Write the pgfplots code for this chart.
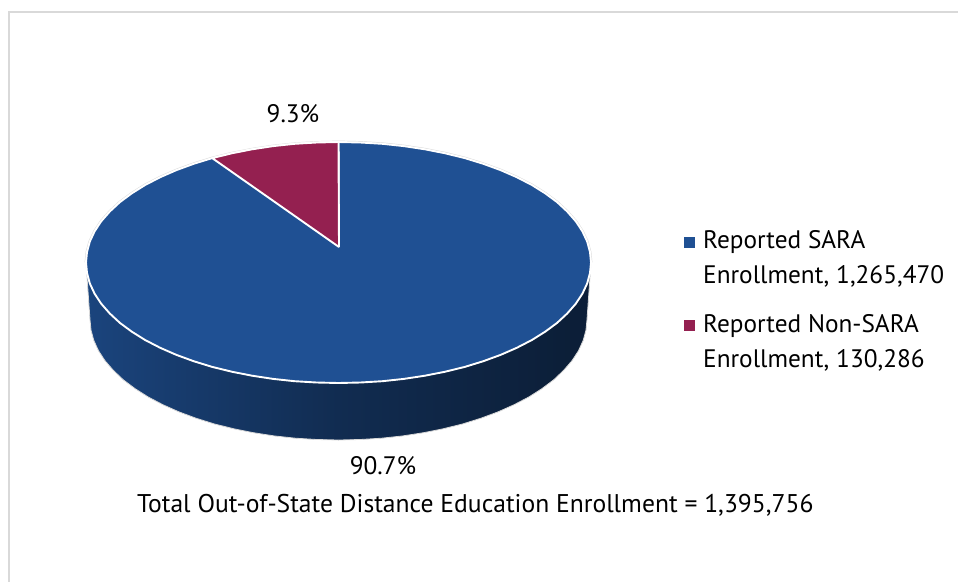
\documentclass[border=0pt]{standalone}
\usepackage{pgfplots}
\pgfplotsset{compat=1.18}
\usepackage{fontspec}
\setmainfont{PT Sans}
\definecolor{sarablue}{HTML}{1F5093}
\definecolor{nonsara}{HTML}{942050}
\definecolor{framegray}{HTML}{D9D9D9}
\pgfdeclarehorizontalshading{sidegrad}{100bp}{
  color(0bp)=(sarablue!90!black);
  color(25bp)=(sarablue!85!black);
  color(50bp)=(sarablue!55!black);
  color(73bp)=(sarablue!38!black);
  color(100bp)=(sarablue!38!black)}
\newcommand{\lab}{\fontsize{25.3}{35}\selectfont}
\begin{document}
\begin{tikzpicture}
\useasboundingbox (0,0) rectangle (958pt,582pt);
\begin{axis}[
    width=958pt, height=582pt, scale only axis,
    xmin=0, xmax=958, ymin=0, ymax=582,
    y dir=reverse,
    hide axis,
]

% frame
\addplot[framegray, line width=2pt] coordinates {(958,12) (9,12) (9,582)};

% side of the disc
\addplot[shade, shading=sidegrad, draw=framegray, line width=0.8pt] coordinates {
  (86,262.5) (90,319.5) (91,330) (93.8,340.4) (98.5,350.7) (105,360.7) (113.4,370.4) (123.3,379.8)
  (135,388.6) (148.2,397) (162.9,404.7) (178.8,411.8) (196,418.2) (214.2,423.9) (233.5,428.7)
  (253.5,432.7) (274.2,435.9) (295.4,438.2) (316.9,439.5) (338.5,440) (360.1,439.5) (381.6,438.2)
  (402.8,435.9) (423.5,432.7) (443.5,428.7) (462.8,423.9) (481,418.2) (498.2,411.8) (514.1,404.7)
  (528.8,397) (542,388.6) (553.7,379.8) (563.6,370.4) (572,360.7) (578.5,350.7) (583.2,340.4)
  (586,330) (587,319.5) (591,262.5) (86,262.5)};

% grey rim along the back of the top face
\addplot[framegray, line width=2.8pt] coordinates {
  (86,262.5) (87,252) (89.8,241.6) (94.6,231.3) (101.2,221.3) (109.7,211.6) (119.8,202.2) (131.7,193.4)
  (145.1,185) (160,177.3) (176.2,170.2) (193.7,163.8) (212.2,158.1)
  (231.8,153.3) (252.1,149.3) (273.2,146.1) (294.7,143.8) (316.5,142.5) (338.5,142)
  (360.5,142.5) (382.3,143.8) (403.8,146.1) (424.9,149.3) (445.2,153.3)
  (464.8,158.1) (483.3,163.8) (500.8,170.2) (517,177.3) (531.9,185) (545.3,193.4) (557.2,202.2)
  (567.3,211.6) (575.8,221.3) (582.4,231.3) (587.2,241.6) (590,252) (591,262.5)};

% Reported SARA, 90.7%
\addplot[fill=sarablue, draw=white, line width=1.9pt, line join=round] coordinates {
  (339,247) (338.5,142) (360.5,142.5) (382.3,143.8) (403.8,146.1) (424.9,149.3) (445.2,153.3)
  (464.8,158.1) (483.3,163.8) (500.8,170.2) (517,177.3) (531.9,185) (545.3,193.4) (557.2,202.2)
  (567.3,211.6) (575.8,221.3) (582.4,231.3) (587.2,241.6) (590,252) (591,262.5)
  (590,273) (587.2,283.4) (582.4,293.7) (575.8,303.7) (567.3,313.4) (557.2,322.8) (545.3,331.6)
  (531.9,340) (517,347.7) (500.8,354.8) (483.3,361.2) (464.8,366.9) (445.2,371.7) (424.9,375.7)
  (403.8,378.9) (382.3,381.2) (360.5,382.5) (338.5,383)
  (316.5,382.5) (294.7,381.2) (273.2,378.9) (252.1,375.7) (231.8,371.7) (212.2,366.9) (193.7,361.2)
  (176.2,354.8) (160,347.7) (145.1,340) (131.7,331.6) (119.8,322.8) (109.7,313.4) (101.2,303.7)
  (94.6,293.7) (89.8,283.4) (87,273) (86,262.5)
  (87,252) (89.8,241.6) (94.6,231.3) (101.2,221.3) (109.7,211.6) (119.8,202.2) (131.7,193.4)
  (145.1,185) (160,177.3) (176.2,170.2) (193.7,163.8) (212.2,158.1)
  (231.8,153.3) (252.1,149.3) (273.2,146.1) (294.7,143.8) (316.5,142.5) (338.5,142)
  (339,247)};

% Reported Non-SARA, 9.3%
\addplot[fill=nonsara, draw=white, line width=1.9pt, line join=round] coordinates {
  (339,247) (212.2,158.1) (231.8,153.3) (252.1,149.3) (273.2,146.1) (294.7,143.8) (316.5,142.5)
  (338.5,142) (339,247)};

\node[font=\lab, anchor=base] at (axis cs:293,122) {9.3\%};
\node[font=\lab, anchor=base] at (axis cs:383,474) {90.7\%};
\node[font=\fontsize{25.6}{35}\selectfont, anchor=base west, inner sep=0pt] at (axis cs:137,512) {Total Out-of-State Distance Education Enrollment = 1,395,756};

% legend keys and text
\addplot[only marks, mark=square*, mark size=4.8pt, color=sarablue] coordinates {(689,242)};
\addplot[only marks, mark=square*, mark size=4.8pt, color=nonsara] coordinates {(689,325)};
\node[font=\lab, anchor=base west, inner sep=0pt] at (axis cs:703,248) {Reported SARA};
\node[font=\lab, anchor=base west, inner sep=0pt] at (axis cs:703,283) {Enrollment, 1,265,470};
\node[font=\lab, anchor=base west, inner sep=0pt] at (axis cs:703,332) {Reported Non-SARA};
\node[font=\lab, anchor=base west, inner sep=0pt] at (axis cs:703,367) {Enrollment, 130,286};
\end{axis}
\end{tikzpicture}
\end{document}
